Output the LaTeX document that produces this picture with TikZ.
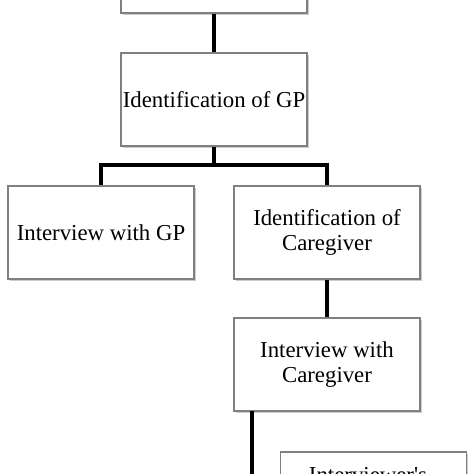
\documentclass[tikz,border=0pt]{standalone}
\usepackage{fontspec}
\setmainfont{Liberation Serif}
\usetikzlibrary{shadows}
\begin{document}
\begin{tikzpicture}[x=1bp,y=-1bp,
  box/.style={draw=black!50, line width=1.1bp, fill=white,
    minimum width=186bp, minimum height=93bp, inner sep=0pt,
    align=center, font=\fontsize{22.8bp}{24.5bp}\selectfont,
    drop shadow={opacity=0.4, shadow xshift=1.8bp, shadow yshift=-2bp}},
  txt/.style={inner sep=0pt, align=center, font=\fontsize{22.8bp}{24.5bp}\selectfont},
  conn/.style={line width=4bp, black}]
\useasboundingbox (0,0) rectangle (474,474);
\clip (0,0) rectangle (474,474);
\fill[white] (0,0) rectangle (474,474);
\node[box] (b1) at (214,-33.5) {};
\node[box] (b2) at (214,99.5) {Identification of GP};
\node[box] (b3) at (101,232.5) {Interview with GP};
\node[box] (b4) at (327,232.5) {Identification of\\Caregiver};
\node[box] (b5) at (327,364.5) {Interview with\\Caregiver};
\node[box] (b6) at (373.5,498.5) {};
\node[txt, anchor=base] (t6) at (368,482) {Interviewer\textquotesingle s};
\coordinate (c5) at (251.7,411);
\coordinate (c6) at (251.7,498.5);
\draw[conn] (b1.south) -- (b2.north);
\draw[conn] (b2.south) -- ++(0,18) -| (b3.north);
\draw[conn] (b2.south) -- ++(0,18) -| (b4.north);
\draw[conn] (b4.south) -- (b5.north);
\draw[conn] (c5) -- (c6) -- (b6.west);
\end{tikzpicture}
\end{document}
